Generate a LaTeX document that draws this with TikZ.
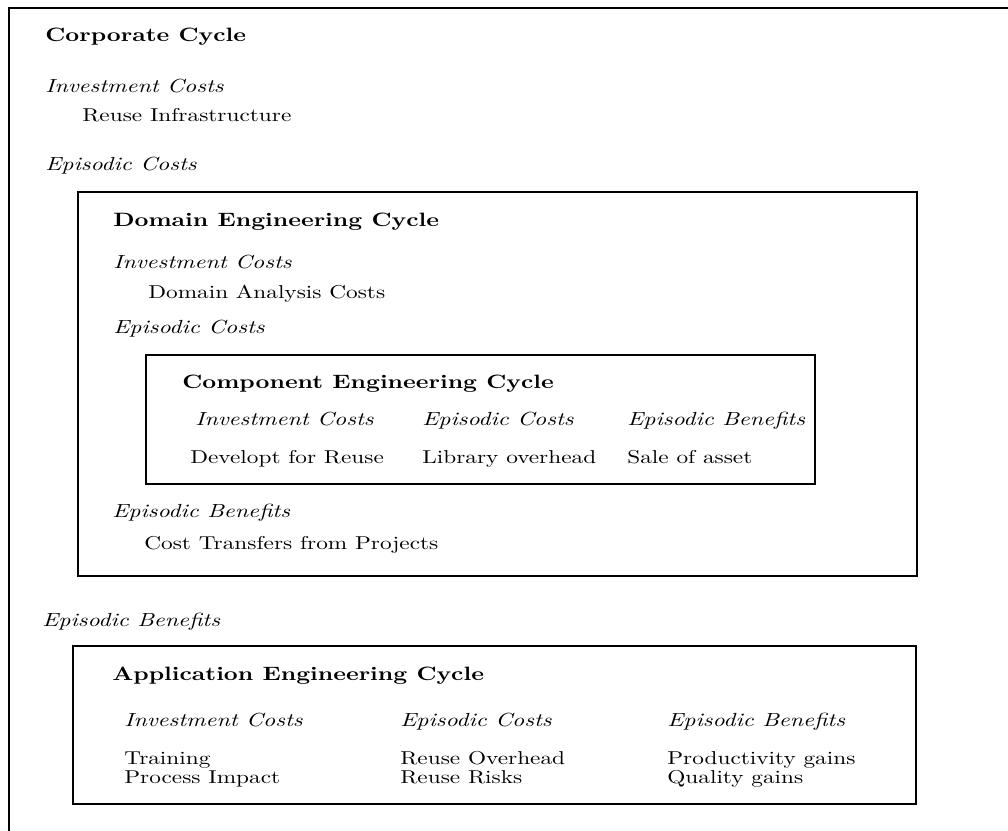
\documentclass[tikz,border=0pt]{standalone}
\usepackage{fontspec}
\setmainfont{lmroman10-regular.otf}[
  BoldFont=lmroman10-bold.otf,
  ItalicFont=lmroman10-italic.otf,
  FakeStretch=1.25]
\usepackage{tikz}

\begin{document}
\begin{tikzpicture}[
    x=0.02cm, y=-0.02cm,
    txt/.style={anchor=base west, inner sep=0pt, font=\fontsize{10.6}{12}\selectfont},
    cyc/.style={txt, font=\fontsize{11}{13}\selectfont\bfseries},
    cost/.style={txt, font=\fontsize{10.8}{12}\selectfont\itshape},
    frame/.style={line width=1pt}
    ]
    \useasboundingbox (0,0) rectangle (1008,831);
    \draw[frame] (9,831) -- (9,8) -- (1008,8);
    \node[cyc] (corp) at (45,42) {Corporate Cycle};
    \node[cost] (corpinv) at (45,93) {Investment Costs};
    \node[txt] (corpinfra) at (82,122) {Reuse Infrastructure};
    \node[cost] (corpepi) at (45,171) {Episodic Costs};
    \draw[frame] (78,192) rectangle (917,576);
    \node[cyc] (dom) at (113,227) {Domain Engineering Cycle};
    \node[cost] (dominv) at (113,269) {Investment Costs};
    \node[txt] (domana) at (148,299) {Domain Analysis Costs};
    \node[cost] (domepi) at (113,334) {Episodic Costs};
    \draw[frame] (146,355) rectangle (815,484);
    \node[cyc] (comp) at (182,388) {Component Engineering Cycle};
    \node[cost] (compinv) at (195,425) {Investment Costs};
    \node[cost] (compepi) at (422,425) {Episodic Costs};
    \node[cost] (compben) at (627,425) {Episodic Benefits};
    \node[txt] (compdev) at (190,463) {Developt for Reuse};
    \node[txt] (complib) at (422,463) {Library overhead};
    \node[txt] (compsale) at (627,463) {Sale of asset};
    \node[cost] (domben) at (112,517) {Episodic Benefits};
    \node[txt] (domtrans) at (144,549) {Cost Transfers from Projects};
    \node[cost] (corpben) at (42,626) {Episodic Benefits};
    \draw[frame] (73,646) rectangle (916,804);
    \node[cyc] (app) at (112,680) {Application Engineering Cycle};
    \node[cost] (appinv) at (124,726) {Investment Costs};
    \node[cost] (appepi) at (400,726) {Episodic Costs};
    \node[cost] (appben) at (667,726) {Episodic Benefits};
    \node[txt] (apptrain) at (124,764) {Training};
    \node[txt] (appproc) at (124,783) {Process Impact};
    \node[txt] (appover) at (400,764) {Reuse Overhead};
    \node[txt] (apprisk) at (400,783) {Reuse Risks};
    \node[txt] (appprod) at (667,764) {Productivity gains};
    \node[txt] (appqual) at (667,783) {Quality gains};
\end{tikzpicture}
\end{document}
